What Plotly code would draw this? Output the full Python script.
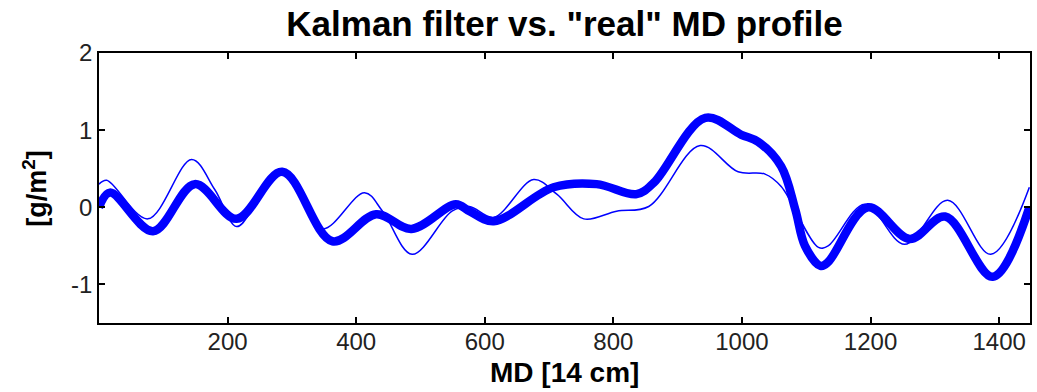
import plotly.graph_objects as go

# Kalman filter estimate (thick line)
kalman_x = [0, 17, 84, 149, 214, 285, 363, 431, 486, 555, 576, 614, 707, 774, 836, 863,
            943, 999, 1025, 1061, 1083, 1098, 1122, 1134, 1196, 1261, 1316, 1390, 1447]
kalman_y = [0.0, 0.19, -0.31, 0.30, -0.15, 0.46, -0.44, -0.09, -0.28, 0.04, -0.05, -0.18, 0.26,
            0.30, 0.17, 0.32, 1.16, 0.94, 0.85, 0.53, -0.03, -0.50, -0.76, -0.71, 0.0, -0.41,
            -0.12, -0.90, 0.0]

# "real" MD profile (thin line)
real_x = [0, 12, 76, 144, 180, 214, 242, 285, 347, 413, 441, 487, 549, 576, 614, 676, 712,
          754, 805, 855, 935, 994, 1036, 1061, 1119, 1134, 1191, 1253, 1320, 1387, 1447]
real_y = [0.30, 0.35, -0.15, 0.62, 0.23, -0.25, 0.01, 0.49, -0.28, 0.19, -0.05, -0.61, -0.05,
          0.01, -0.13, 0.36, 0.17, -0.15, -0.05, 0.01, 0.80, 0.46, 0.43, 0.27, -0.52, -0.50,
          0.04, -0.48, 0.09, -0.61, 0.26]

x_ticks = [200, 400, 600, 800, 1000, 1200, 1400]
x_tick_labels = ["200", "400", "600", "800", "1000", "1200", "1400"]
y_ticks = [-1, 0, 1, 2]
y_tick_labels = ["-1", "0", "1", "2"]

fig = go.Figure()
fig.add_trace(go.Scatter(x=real_x, y=real_y, mode="lines",
                         line=dict(color="#0000FF", width=1.5, shape="spline", smoothing=1.0),
                         showlegend=False))
fig.add_trace(go.Scatter(x=kalman_x, y=kalman_y, mode="lines",
                         line=dict(color="#0000FF", width=8.5, shape="spline", smoothing=1.0),
                         showlegend=False))

axis_common = dict(showline=True, mirror="ticks", linecolor="black", linewidth=1.5,
                   ticks="inside", ticklen=6, tickcolor="black", tickwidth=1.5,
                   showgrid=False, zeroline=False,
                   tickfont=dict(family="Liberation Sans, Arial", size=24, color="#222222"))

fig.update_layout(
    width=1037, height=392,
    margin=dict(l=99, r=5, t=53, b=69),
    paper_bgcolor="white", plot_bgcolor="white",
    title=dict(text='<b>Kalman filter vs. "real" MD profile</b>',
               x=0.5, xref="paper", xanchor="center",
               y=1 - 24 / 392, yref="container", yanchor="middle",
               font=dict(family="Liberation Sans, Arial", size=35, color="black")),
    xaxis=dict(range=[0, 1448], tickvals=x_ticks, ticktext=x_tick_labels,
               ticklabelstandoff=-4, **axis_common),
    yaxis=dict(range=[-1.5, 2], tickvals=y_ticks, ticktext=y_tick_labels, **axis_common),
    annotations=[
        dict(text="<b>MD [14 cm]</b>", xref="paper", yref="paper", x=0.5, y=-0.185,
             xanchor="center", yanchor="middle", showarrow=False,
             font=dict(family="Liberation Sans, Arial", size=28, color="black")),
        dict(text="<b>[g/m<sup>2</sup>]</b>", xref="paper", yref="paper", x=-0.069, y=0.5,
             xanchor="center", yanchor="middle", showarrow=False, textangle=-90,
             font=dict(family="Liberation Sans, Arial", size=27, color="black")),
    ],
)

fig.write_html("out.html")
